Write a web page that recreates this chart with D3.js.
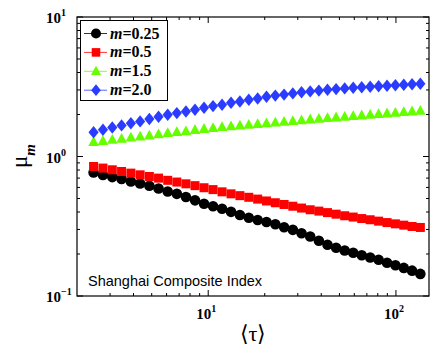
<!DOCTYPE html>
<html><head><meta charset="utf-8">
<script src="https://cdn.jsdelivr.net/npm/d3@7"></script>
<style>body{margin:0;background:#fff}svg{display:block}</style>
</head><body>
<svg id="c" width="436" height="348"></svg>
<script>
const tau = [2.451,2.750,3.083,3.455,3.873,4.338,4.858,5.438,6.084,6.805,7.608,8.504,9.501,10.61,11.85,13.23,14.75,16.45,18.34,20.44,22.78,25.36,28.23,31.41,34.94,38.86,43.19,48.00,53.33,59.20,65.71,72.91,80.85,89.65,99.36,110.1,121.9,134.9];
const mu025 = [0.768,0.736,0.712,0.689,0.662,0.640,0.617,0.590,0.561,0.540,0.512,0.485,0.458,0.440,0.422,0.401,0.381,0.364,0.351,0.339,0.327,0.311,0.298,0.282,0.267,0.249,0.233,0.222,0.212,0.204,0.196,0.189,0.182,0.173,0.166,0.159,0.152,0.144];
const mu05 = [0.848,0.826,0.803,0.781,0.760,0.739,0.719,0.700,0.675,0.656,0.637,0.618,0.597,0.579,0.558,0.540,0.524,0.510,0.495,0.480,0.466,0.453,0.440,0.427,0.415,0.406,0.396,0.386,0.376,0.368,0.359,0.352,0.344,0.336,0.329,0.322,0.315,0.310];
const mu15 = [1.268,1.294,1.317,1.339,1.366,1.389,1.414,1.445,1.471,1.498,1.516,1.551,1.577,1.601,1.625,1.646,1.668,1.688,1.710,1.730,1.750,1.773,1.797,1.820,1.845,1.866,1.888,1.907,1.926,1.948,1.971,1.990,2.013,2.037,2.057,2.081,2.105,2.126];
const mu20 = [1.494,1.554,1.614,1.671,1.733,1.785,1.857,1.929,1.990,2.047,2.101,2.162,2.234,2.298,2.348,2.426,2.479,2.550,2.605,2.679,2.733,2.778,2.834,2.886,2.929,2.968,3.007,3.042,3.077,3.108,3.139,3.165,3.191,3.217,3.244,3.271,3.298,3.320];
const seriesNames = ["0.25","0.5","1.5","2.0"];
const seriesColors = ["#000000","#ff0000","#66ff00","#2a3cff"];
const seriesShapes = ["circle","square","triangle","diamond"];
const xMajorTicks = [10,100];
const yMajorTicks = [0.1,1,10];
const xDomain = [2,150];
const yDomain = [0.1,10];
const annotation = "Shanghai Composite Index";

const svg = d3.select("#c");
const L=77,R=429,T=17,B=296;
const x = d3.scaleLog().domain(xDomain).range([L,R]);
const y = d3.scaleLog().domain(yDomain).range([B,T]);
const serif = "'Liberation Serif','Times New Roman',serif";

function drawMarker(g, shape, cx, cy, color, s){
  if(shape==="circle") g.append("circle").attr("cx",cx).attr("cy",cy).attr("r",5.3*s).attr("fill",color);
  else if(shape==="square") g.append("rect").attr("x",cx-4.5*s).attr("y",cy-4.5*s).attr("width",9*s).attr("height",9*s).attr("fill",color);
  else if(shape==="triangle") g.append("path").attr("d",`M${cx},${cy-5.8*s}L${cx+5.3*s},${cy+4*s}L${cx-5.3*s},${cy+4*s}Z`).attr("fill",color);
  else g.append("path").attr("d",`M${cx},${cy-6.2*s}L${cx+5.1*s},${cy}L${cx},${cy+6.2*s}L${cx-5.1*s},${cy}Z`).attr("fill",color);
}
const allSeries=[mu025,mu05,mu15,mu20];
const plot = svg.append("g");
allSeries.forEach((vals,si)=>{
  const g=plot.append("g");
  vals.forEach((v,i)=>drawMarker(g,seriesShapes[si],x(tau[i]),y(v),seriesColors[si],1));
});

const ax = svg.append("g").attr("stroke","#000").attr("fill","none");
ax.append("rect").attr("x",L).attr("y",T).attr("width",R-L).attr("height",B-T).attr("stroke-width",1.2);
const xMinor=[], yMinor=[];
[1,10,100].forEach(d=>{for(let k=2;k<=9;k++){const v=d*k; if(v>xDomain[0]&&v<xDomain[1]) xMinor.push(v);}});
[0.1,1].forEach(d=>{for(let k=2;k<=9;k++){yMinor.push(+(d*k).toFixed(2));}});
xMajorTicks.forEach(v=>{ax.append("line").attr("x1",x(v)).attr("x2",x(v)).attr("y1",B).attr("y2",B-6);ax.append("line").attr("x1",x(v)).attr("x2",x(v)).attr("y1",T).attr("y2",T+6);});
xMinor.forEach(v=>{ax.append("line").attr("x1",x(v)).attr("x2",x(v)).attr("y1",B).attr("y2",B-3);ax.append("line").attr("x1",x(v)).attr("x2",x(v)).attr("y1",T).attr("y2",T+3);});
yMajorTicks.forEach(v=>{ax.append("line").attr("x1",L).attr("x2",L+6).attr("y1",y(v)).attr("y2",y(v));ax.append("line").attr("x1",R).attr("x2",R-6).attr("y1",y(v)).attr("y2",y(v));});
yMinor.forEach(v=>{ax.append("line").attr("x1",L).attr("x2",L+3).attr("y1",y(v)).attr("y2",y(v));ax.append("line").attr("x1",R).attr("x2",R-3).attr("y1",y(v)).attr("y2",y(v));});

const lab = svg.append("g").attr("font-family",serif).attr("font-weight","bold").attr("fill","#000");
xMajorTicks.forEach(v=>{
  const t=lab.append("text").attr("x",x(v)-2).attr("y",319).attr("text-anchor","middle").attr("font-size",15);
  t.append("tspan").text("10");
  t.append("tspan").attr("dy",-7).attr("font-size",10).text(Math.round(Math.log10(v)));
});
yMajorTicks.forEach(v=>{
  const e=Math.round(Math.log10(v));
  const t=lab.append("text").attr("x",46).attr("y",y(v)+6).attr("font-size",15);
  t.append("tspan").text("10");
  t.append("tspan").attr("dy",-7).attr("font-size",10).text(e<0?"\u2212"+(-e):e);
});

svg.append("text").attr("x",(L+R)/2).attr("y",341).attr("text-anchor","middle").attr("font-family",serif).attr("font-size",22).text("\u27E8\u03C4\u27E9");
const yl=svg.append("text").attr("transform","translate(27,156) rotate(-90)").attr("text-anchor","middle").attr("font-family",serif).attr("font-size",23);
yl.append("tspan").text("\u03BC");
yl.append("tspan").attr("dy",8).attr("font-size",15).attr("font-style","italic").attr("font-weight","bold").text("m");

svg.append("text").attr("x",88).attr("y",286).attr("font-family","'Liberation Sans',Arial,sans-serif").attr("font-size",14.5).text(annotation);

const lg=svg.append("g");
lg.append("rect").attr("x",80.5).attr("y",20.5).attr("width",87).attr("height",80).attr("fill","#fff").attr("stroke","#000").attr("stroke-width",1);
seriesNames.forEach((nm,i)=>{
  const cy=33.5+i*18.9;
  lg.append("line").attr("x1",84).attr("x2",107).attr("y1",cy).attr("y2",cy).attr("stroke",seriesColors[i]).attr("stroke-width",0.8);
  drawMarker(lg,seriesShapes[i],96,cy,seriesColors[i],0.95);
  const t=lg.append("text").attr("x",110).attr("y",cy+5).attr("font-family",serif).attr("font-weight","bold").attr("font-size",16);
  t.append("tspan").attr("font-style","italic").text("m");
  t.append("tspan").text("="+nm);
});
</script>
</body></html>
